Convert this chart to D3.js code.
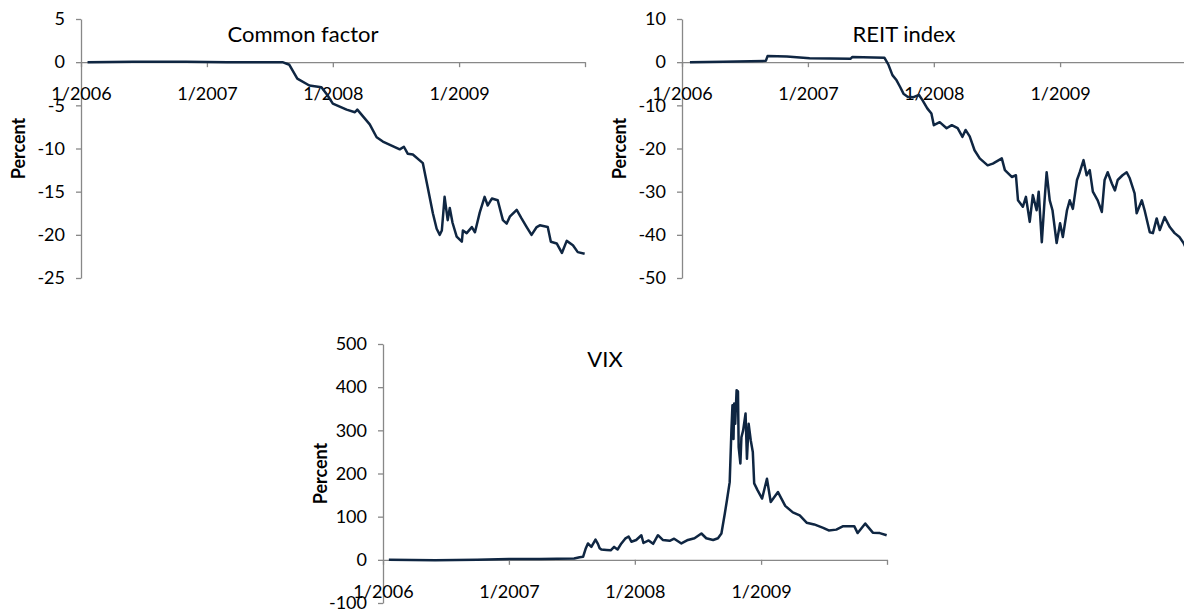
<!DOCTYPE html>
<html>
<head>
<meta charset="utf-8">
<script src="https://cdnjs.cloudflare.com/ajax/libs/d3/7.8.5/d3.min.js"></script>
<style>
  body { margin: 0; background: #fff; }
  text { font-family: Lato, "Open Sans", sans-serif; fill: #000; }
</style>
</head>
<body>
<div id="chart"></div>
<script>
// common factor (percent)
var cfDates = ["2006-01-20","2006-06-01","2006-11-01","2007-03-01","2007-08-08","2007-08-28","2007-09-20","2007-10-25","2007-11-29","2007-12-16",
  "2008-01-01","2008-02-10","2008-03-05","2008-03-12","2008-04-17","2008-05-07","2008-05-25","2008-07-13","2008-07-25","2008-08-05",
  "2008-08-20","2008-09-18","2008-10-02","2008-10-17","2008-10-28","2008-11-06","2008-11-12","2008-11-20","2008-11-29","2008-12-05",
  "2008-12-13","2008-12-25","2009-01-09","2009-01-12","2009-01-23","2009-02-07","2009-02-16","2009-03-02","2009-03-16","2009-03-25",
  "2009-04-06","2009-04-23","2009-05-08","2009-05-19","2009-05-28","2009-06-17","2009-07-01","2009-07-16","2009-07-30","2009-08-14",
  "2009-08-23","2009-09-15","2009-09-24","2009-10-11","2009-10-26","2009-11-09","2009-11-27","2009-12-11","2009-12-31"]
var cfValues = [0,0.05,0.05,0,0,-0.3,-1.9,-2.7,-2.9,-3.8,
  -4.8,-5.5,-5.8,-5.5,-7.2,-8.7,-9.2,-10.1,-9.8,-10.6,
  -10.7,-11.7,-14.5,-17.5,-19.3,-20.0,-19.5,-15.6,-18.3,-16.9,
  -18.6,-20.2,-20.8,-19.5,-19.8,-19.1,-19.7,-17.4,-15.6,-16.6,
  -15.8,-16.0,-18.3,-18.7,-17.9,-17.1,-18.1,-19.1,-20.0,-19.1,
  -18.9,-19.1,-20.8,-21.0,-22.1,-20.7,-21.2,-22.0,-22.2]

// REIT index (percent)
var reitDates = ["2006-01-24","2006-05-01","2006-09-01","2006-09-06","2006-11-01","2007-01-06","2007-05-05","2007-05-10","2007-08-11","2007-08-22",
  "2007-09-03","2007-09-15","2007-09-25","2007-10-05","2007-10-17","2007-11-03","2007-11-19","2007-11-29","2007-12-13","2007-12-25",
  "2008-01-01","2008-01-18","2008-02-07","2008-02-22","2008-03-10","2008-03-24","2008-04-02","2008-04-14","2008-04-28","2008-05-13",
  "2008-06-05","2008-06-20","2008-07-16","2008-07-25","2008-08-14","2008-08-26","2008-09-01","2008-09-15","2008-09-24","2008-10-05",
  "2008-10-14","2008-10-25","2008-10-31","2008-11-09","2008-11-17","2008-11-23","2008-12-02","2008-12-10","2008-12-22","2009-01-01",
  "2009-01-09","2009-01-21","2009-01-29","2009-02-07","2009-02-19","2009-02-27","2009-03-10","2009-03-19","2009-03-28","2009-04-06",
  "2009-04-20","2009-05-02","2009-05-10","2009-05-19","2009-05-31","2009-06-09","2009-06-17","2009-07-01","2009-07-13","2009-07-22",
  "2009-08-05","2009-08-11","2009-08-26","2009-09-03","2009-09-18","2009-09-27","2009-10-08","2009-10-17","2009-10-31","2009-11-15",
  "2009-11-29","2009-12-13","2009-12-25","2009-12-31"]
var reitValues = [0,0.1,0.3,1.4,1.3,0.9,0.8,1.2,1.0,-0.5,
  -3.0,-4.2,-5.7,-7.3,-8.0,-8.1,-7.6,-8.8,-10.7,-11.9,
  -14.6,-13.9,-15.3,-14.6,-15.3,-17.3,-15.7,-17.2,-20.4,-22.3,
  -23.9,-23.5,-22.3,-25.0,-26.6,-26.2,-32.0,-33.5,-31.2,-37.0,
  -30.8,-34.3,-30.0,-41.7,-32.0,-25.5,-32.0,-34.3,-41.9,-37.3,
  -40.5,-34.3,-32.0,-34.0,-27.3,-25.5,-22.7,-26.2,-25.0,-30.0,
  -32.0,-34.7,-27.3,-25.5,-28.1,-29.7,-27.3,-26.2,-25.5,-26.9,
  -30.4,-35.0,-32.0,-34.3,-39.4,-39.6,-36.2,-38.9,-35.9,-38.2,
  -39.6,-40.5,-41.9,-43.0]

// VIX (percent)
var vixDates = ["2006-01-18","2006-06-01","2006-10-01","2007-01-01","2007-04-01","2007-07-09","2007-07-25","2007-08-04","2007-08-12","2007-08-18",
  "2007-08-28","2007-09-09","2007-09-16","2007-09-21","2007-09-26","2007-10-11","2007-10-23","2007-11-02","2007-11-12","2007-11-23",
  "2007-12-04","2007-12-14","2007-12-22","2008-01-05","2008-01-20","2008-01-26","2008-02-10","2008-02-23","2008-03-08","2008-03-22",
  "2008-04-11","2008-04-24","2008-05-15","2008-06-03","2008-06-22","2008-07-12","2008-07-26","2008-08-15","2008-08-29","2008-09-08",
  "2008-09-18","2008-09-24","2008-10-02","2008-10-07","2008-10-10","2008-10-13","2008-10-15","2008-10-18","2008-10-22","2008-10-26",
  "2008-10-28","2008-11-02","2008-11-05","2008-11-10","2008-11-17","2008-11-21","2008-11-26","2008-12-02","2008-12-08","2008-12-12",
  "2008-12-22","2009-01-04","2009-01-18","2009-01-29","2009-02-19","2009-03-12","2009-04-03","2009-04-23","2009-05-13","2009-06-04",
  "2009-06-30","2009-07-16","2009-08-07","2009-08-27","2009-09-28","2009-10-08","2009-10-30","2009-11-21","2009-12-11","2009-12-31"]
var vixValues = [0,-1,0,2,2,3,6,7,27,38,
  30,47,37,27,24,23,22,30,24,38,
  49,54,42,46,57,39,45,37,57,46,
  44,49,38,46,50,61,50,46,50,61,
  108,138,180,300,358,280,362,315,393,390,
  261,223,284,300,339,234,315,277,250,177,
  161,142,188,134,157,125,110,103,86,82,
  74,68,70,78,78,62,84,63,62,57]

// axis ticks
var xTickDates = ["2006-01-01","2007-01-01","2008-01-01","2009-01-01","2010-01-01"]
var xTickLabels = ["1/2006","1/2007","1/2008","1/2009",""]
var cfTicks = [-25,-20,-15,-10,-5,0,5]
var reitTicks = [-50,-40,-30,-20,-10,0,10]
var vixTicks = [-100,0,100,200,300,400,500]

var width = 1184
var height = 611
var parseDate = d3.timeParse("%Y-%m-%d")

var svg = d3.select("#chart")
  .append("svg")
    .attr("width", width)
    .attr("height", height)

function drawPanel(p) {
  var x = d3.scaleTime()
    .domain([parseDate("2006-01-01"), parseDate("2010-01-01")])
    .range([p.left, p.right])
  var y = d3.scaleLinear()
    .domain([p.ticks[0], p.ticks[p.ticks.length - 1]])
    .range([p.bottom, p.top])

  var g = svg.append("g")

  // y axis on the left, plain hyphen for minus
  var gy = g.append("g")
    .attr("transform", "translate(" + p.left + ",0)")
    .call(d3.axisLeft(y).tickValues(p.ticks).tickSize(5).tickSizeOuter(0).tickPadding(11)
      .tickFormat(function(d){ return String(d) }))
  gy.select(".domain").attr("stroke", "#888").attr("stroke-width", 1.3)
  gy.selectAll(".tick line").attr("stroke", "#888").attr("stroke-width", 1.3)
  gy.selectAll("text").style("font-size", "18px").attr("fill", "#000")

  // x axis crosses at zero
  var tickMap = {}
  xTickDates.forEach(function(d, i){ tickMap[+parseDate(d)] = xTickLabels[i] })
  var gx = g.append("g")
    .attr("transform", "translate(0," + y(0) + ")")
    .call(d3.axisBottom(x)
      .tickValues(xTickDates.map(parseDate))
      .tickSize(5).tickSizeOuter(0)
      .tickFormat(function(d){ return tickMap[+d] }))
  gx.select(".domain").attr("stroke", "#888").attr("stroke-width", 1.3)
  gx.selectAll(".tick line").attr("stroke", "#888").attr("stroke-width", 1.3)
  gx.selectAll("text")
    .style("font-size", "18px")
    .attr("fill", "#000")
    .attr("y", 32)
    .attr("dy", "0.35em")

  // the series
  var data = p.dates.map(function(d, i){ return {date: parseDate(d), value: p.values[i]} })
  g.append("path")
    .datum(data)
    .attr("fill", "none")
    .attr("stroke", "#0f2642")
    .attr("stroke-width", 2.5)
    .attr("stroke-linejoin", "round")
    .attr("d", d3.line()
      .x(function(d){ return x(d.date) })
      .y(function(d){ return y(d.value) }))

  // title
  g.append("text")
    .attr("x", (p.left + p.right) / 2 - 30)
    .attr("y", p.top + 15)
    .attr("dy", "0.35em")
    .attr("text-anchor", "middle")
    .style("font-size", "22px")
    .text(p.title)

  // y label
  g.append("text")
    .attr("transform", "translate(" + (p.left - 62) + "," + ((p.top + p.bottom) / 2) + ") rotate(-90)")
    .attr("dy", "0.35em")
    .attr("text-anchor", "middle")
    .style("font-size", "18px")
    .style("font-weight", "bold")
    .text("Percent")
}

drawPanel({title: "Common factor", dates: cfDates, values: cfValues, ticks: cfTicks, left: 81, right: 585, top: 19, bottom: 278})
drawPanel({title: "REIT index", dates: reitDates, values: reitValues, ticks: reitTicks, left: 682, right: 1186, top: 19, bottom: 278})
drawPanel({title: "VIX", dates: vixDates, values: vixValues, ticks: vixTicks, left: 383, right: 887, top: 344, bottom: 603})
</script>
</body>
</html>
